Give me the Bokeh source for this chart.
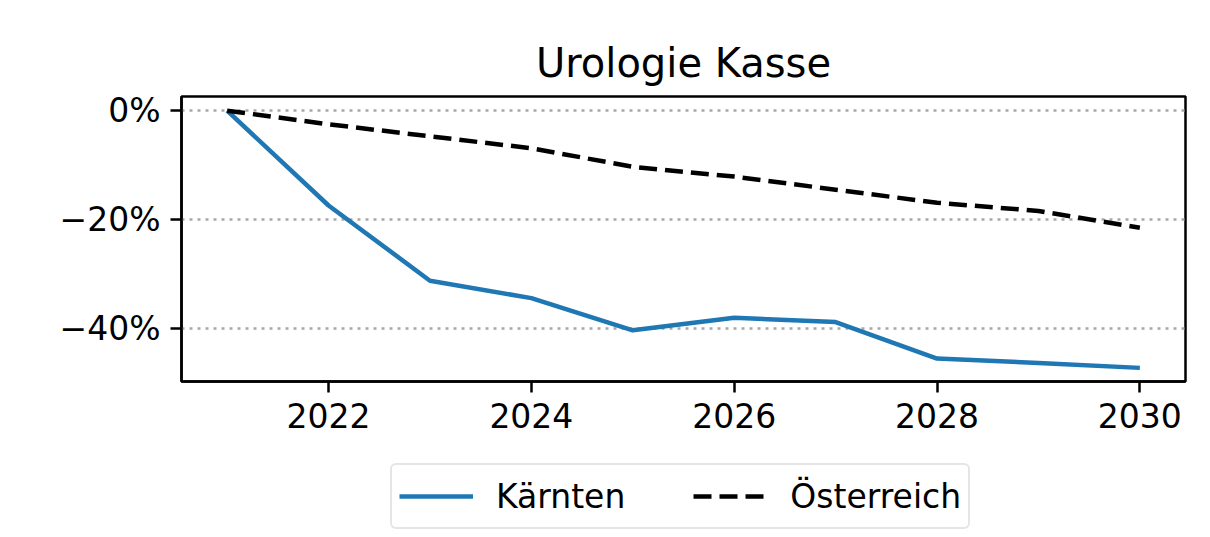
from bokeh.plotting import figure
from bokeh.layouts import column
from bokeh.models import Range1d, FixedTicker, CustomJSTickFormatter, Legend, LegendItem
from bokeh.embed import file_html
from bokeh.resources import INLINE

years = [2021, 2022, 2023, 2024, 2025, 2026, 2027, 2028, 2029, 2030]
kaernten = [0.0, -17.4, -31.2, -34.4, -40.3, -38.0, -38.8, -45.5, -46.3, -47.2]
oesterreich = [0.0, -2.5, -4.7, -6.9, -10.3, -12.1, -14.5, -16.9, -18.4, -21.5]
x_ticks = [2022, 2024, 2026, 2028, 2030]
y_ticks = [0, -20, -40]
title_text = "Urologie Kasse"
series_names = ["Kärnten", "Österreich"]

FONT = "DejaVu Sans"
BLUE = "#1f77b4"

p = figure(width=1200, height=445, output_backend="svg", toolbar_location=None,
           x_range=Range1d(2020.55, 2030.45), y_range=Range1d(-49.7, 2.6),
           min_border_left=181, min_border_right=15, min_border_top=96, min_border_bottom=64,
           title=title_text)

p.title.text_font = FONT
p.title.text_font_size = "40px"
p.title.text_font_style = "normal"
p.title.align = "center"
p.title.text_color = "black"
p.title.standoff = 22

p.line(years, kaernten, line_color=BLUE, line_width=4.5)
p.line(years, oesterreich, line_color="black", line_width=4.5, line_dash="18 8")

p.outline_line_color = "black"
p.outline_line_width = 2.5
p.background_fill_color = "white"
p.border_fill_color = "white"

p.xgrid.grid_line_color = None
p.ygrid.grid_line_color = "#a8a8a8"
p.ygrid.grid_line_width = 2.5
p.ygrid.grid_line_dash = "3 5"

p.xaxis.ticker = FixedTicker(ticks=x_ticks)
p.yaxis.ticker = FixedTicker(ticks=y_ticks)
p.yaxis.formatter = CustomJSTickFormatter(code="return (tick < 0 ? '\u2212' : '') + Math.abs(tick) + '%';")

for ax in [p.xaxis[0], p.yaxis[0]]:
    ax.major_label_text_font = FONT
    ax.major_label_text_font_size = "33px"
    ax.major_label_text_color = "black"
    ax.axis_line_color = "black"
    ax.axis_line_width = 2.5
    ax.major_tick_line_color = "black"
    ax.major_tick_line_width = 2.5
    ax.major_tick_out = 11
    ax.major_tick_in = 0
    ax.minor_tick_line_color = None
    ax.major_label_standoff = 10

# legend strip below the chart (its sample lines lie outside its own view range)
q = figure(width=1200, height=91, output_backend="svg", toolbar_location=None,
           x_range=Range1d(0, 1), y_range=Range1d(0, 1),
           x_axis_location=None, y_axis_location=None,
           min_border_left=0, min_border_right=0, min_border_top=0, min_border_bottom=0)
q.outline_line_color = None
q.grid.grid_line_color = None
q.border_fill_color = "white"
l1 = q.line(years, kaernten, line_color=BLUE, line_width=4.5)
l2 = q.line(years, oesterreich, line_color="black", line_width=4.5, line_dash="18 8")

legend = Legend(items=[LegendItem(label=series_names[0], renderers=[l1]),
                       LegendItem(label=series_names[1], renderers=[l2])],
                orientation="horizontal", location=(209, 7))
legend.label_text_font = FONT
legend.label_text_font_size = "33px"
legend.label_text_color = "black"
legend.glyph_width = 74
legend.glyph_height = 48
legend.label_height = 48
legend.label_standoff = 23
legend.spacing = 68
legend.padding = 7
legend.margin = 0
legend.border_line_color = "#cccccc"
legend.border_line_width = 2
legend.background_fill_alpha = 0.8
if "border_radius" in Legend.properties():
    legend.border_radius = 6
q.add_layout(legend, "center")

layout = column(p, q, spacing=0)
open("out.html", "w").write(file_html(layout, INLINE))
